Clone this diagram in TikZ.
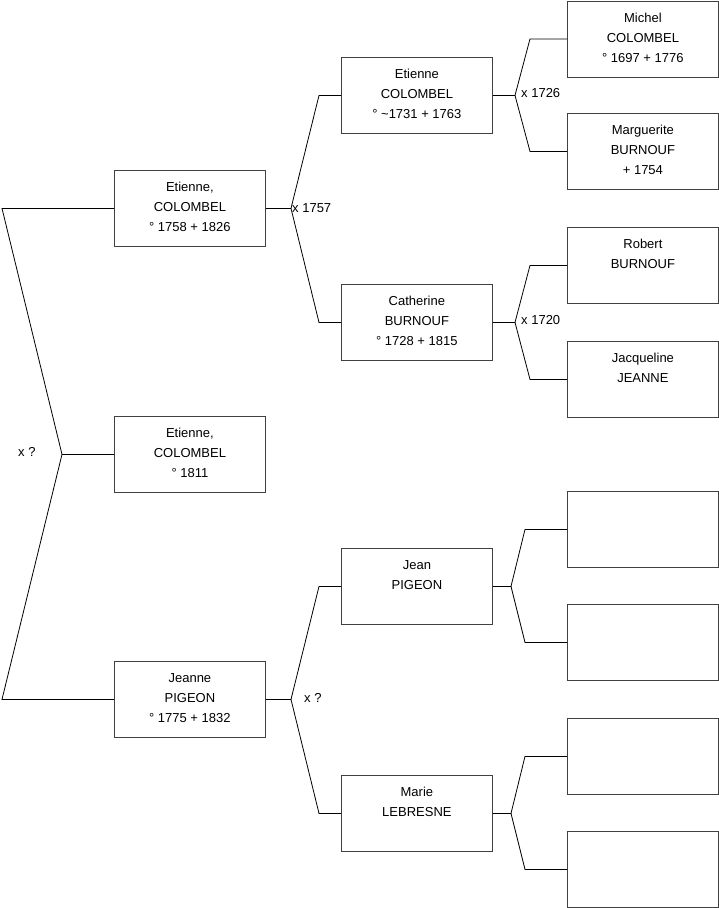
\documentclass[tikz,border=0pt]{standalone}
\usepackage{fontspec}
\setmainfont{Liberation Sans}
\tikzset{
  personne/.style={draw=black!75, line width=0.8pt, anchor=north west,
    inner xsep=0pt, inner ysep=10pt, minimum width=151pt,
    font=\fontsize{13}{20}\selectfont,
    execute at begin node={\begin{minipage}[t][56pt][t]{151pt}\centering\rule{0pt}{11.5pt}},
    execute at end node={\end{minipage}}},
  union/.style={font=\fontsize{13}{20}\selectfont, inner sep=0pt, anchor=west},
  branche/.style={line width=0.8pt}
}

\begin{document}
\begin{tikzpicture}[x=1pt, y=-1pt]
\useasboundingbox (0,0) rectangle (719,908);

% colonnes des fourches
\coordinate (b1) at (2,0);
\coordinate (j1) at (62,0);
\coordinate (j2) at (291,0);
\coordinate (b2) at (319,0);
\coordinate (j3) at (515,0);
\coordinate (b3) at (530,0);
\coordinate (k3) at (511,0);
\coordinate (c3) at (525,0);

% generation 1 et 2
\node[personne] (ego)  at (114,416) {Etienne,\\COLOMBEL\\° 1811};
\node[personne] (pere) at (114,170) {Etienne,\\COLOMBEL\\° 1758 + 1826};
\node[personne] (mere) at (114,661) {Jeanne\\PIGEON\\° 1775 + 1832};

% generation 3
\node[personne] (gpp) at (341,57)  {Etienne\\COLOMBEL\\° \textasciitilde 1731 + 1763};
\node[personne] (gmp) at (341,284) {Catherine\\BURNOUF\\° 1728 + 1815};
\node[personne] (gpm) at (341,548) {Jean\\PIGEON};
\node[personne] (gmm) at (341,775) {Marie\\LEBRESNE};

% generation 4
\node[personne] (a1) at (567,0.5) {Michel\\COLOMBEL\\° 1697 + 1776};
\node[personne] (a2) at (567,113) {Marguerite\\BURNOUF\\+ 1754};
\node[personne] (a3) at (567,227) {Robert\\BURNOUF};
\node[personne] (a4) at (567,341) {Jacqueline\\JEANNE};
\node[personne] (a5) at (567,491) {};
\node[personne] (a6) at (567,604) {};
\node[personne] (a7) at (567,718) {};
\node[personne] (a8) at (567,831) {};

% liens
\draw[branche] (pere.west) -- (pere.west -| b1) -- (ego.west -| j1) -- (ego.west);
\draw[branche] (mere.west) -- (mere.west -| b1) -- (ego.west -| j1);
\node[union] (u1) at (18,452) {x ?};

\draw[branche] (pere.east) -- (pere.east -| j2) -- (gpp.west -| b2) -- (gpp.west);
\draw[branche] (pere.east -| j2) -- (gmp.west -| b2) -- (gmp.west);
\node[union] (u2) at (292,208) {x 1757};

\draw[branche] (mere.east) -- (mere.east -| j2) -- (gpm.west -| b2) -- (gpm.west);
\draw[branche] (mere.east -| j2) -- (gmm.west -| b2) -- (gmm.west);
\node[union] (u3) at (304,698) {x ?};

\draw[branche] (gpp.east) -- (gpp.east -| j3) -- (a1.west -| b3) -- (a1.west);
\draw[branche] (gpp.east -| j3) -- (a2.west -| b3) -- (a2.west);
\node[union] (u4) at (521,93) {x 1726};

\draw[branche] (gmp.east) -- (gmp.east -| j3) -- (a3.west -| b3) -- (a3.west);
\draw[branche] (gmp.east -| j3) -- (a4.west -| b3) -- (a4.west);
\node[union] (u5) at (521,320) {x 1720};

\draw[branche] (gpm.east) -- (gpm.east -| k3) -- (a5.west -| c3) -- (a5.west);
\draw[branche] (gpm.east -| k3) -- (a6.west -| c3) -- (a6.west);

\draw[branche] (gmm.east) -- (gmm.east -| k3) -- (a7.west -| c3) -- (a7.west);
\draw[branche] (gmm.east -| k3) -- (a8.west -| c3) -- (a8.west);
\end{tikzpicture}
\end{document}
